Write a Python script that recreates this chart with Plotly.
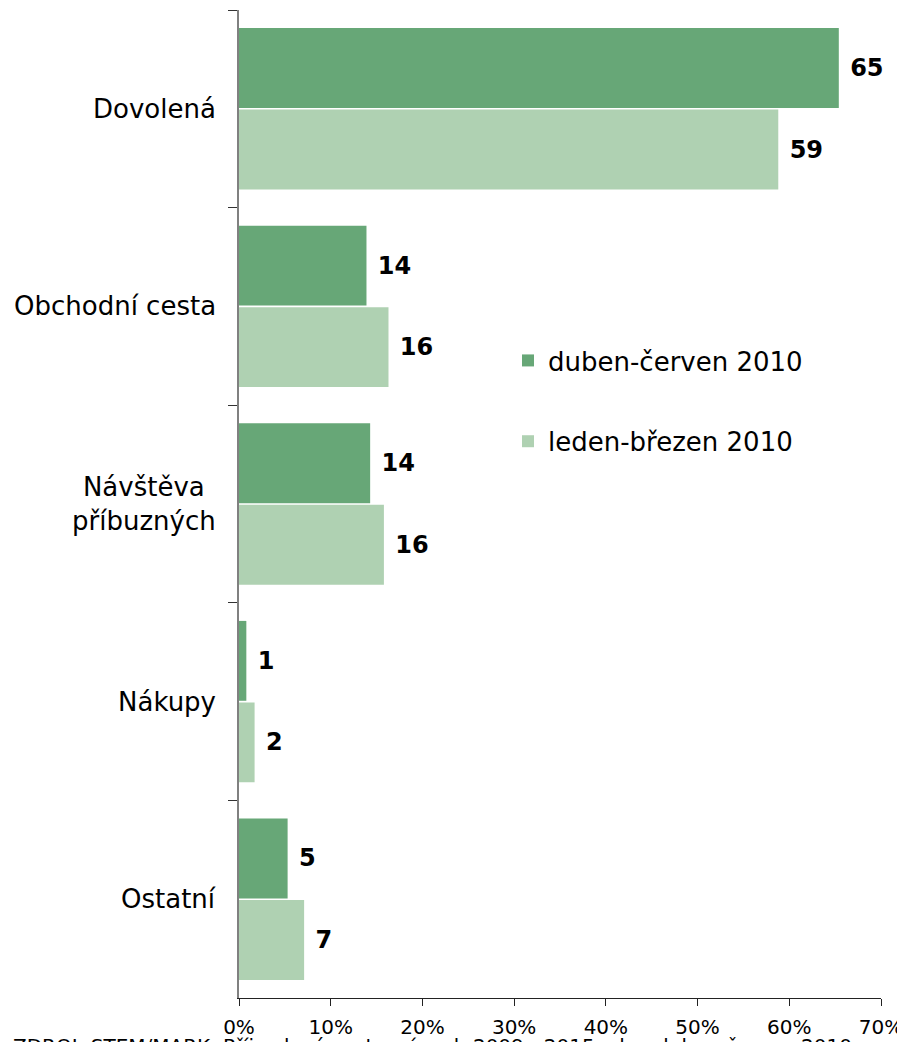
import plotly.graph_objects as go

categories = ["Dovolená", "Obchodní cesta", "Návštěva<br>příbuzných", "Nákupy", "Ostatní"]
series_names = ["duben-červen 2010", "leden-březen 2010"]
values_q2 = [65.4, 13.9, 14.3, 0.8, 5.3]
values_q1 = [58.8, 16.3, 15.8, 1.7, 7.1]
x_ticks = [0, 10, 20, 30, 40, 50, 60, 70]
x_tick_labels = ["0%", "10%", "20%", "30%", "40%", "50%", "60%", "70%"]
source_text = "ZDROJ: STEM/MARK, Příjezdový cestovní ruch 2009 - 2015, vlna duben-červen 2010"

colors = ["#67A777", "#AFD1B2"]
FONT = "DejaVu Sans, Verdana, sans-serif"

fig = go.Figure()
for name, vals, col, grp in [(series_names[0], values_q2, colors[0], "a"),
                             (series_names[1], values_q1, colors[1], "b")]:
    fig.add_trace(go.Bar(
        y=categories, x=vals, name=name, orientation="h",
        marker=dict(color=col, line=dict(width=0)),
        texttemplate=" %{x:.0f}", textposition="outside",
        textfont=dict(family=FONT, size=24, color="black", weight="bold"),
        cliponaxis=False, legendgroup=grp,
    ))

annotations = []
for c in categories:
    annotations.append(dict(
        x=0, xref="paper", y=c, yref="y", text=c, showarrow=False,
        xanchor="right", yanchor="middle", align="center", xshift=-21,
        font=dict(family=FONT, size=26, color="black"),
    ))
annotations.append(dict(
    x=-0.355, xref="paper", y=-0.034, yref="paper", text=source_text,
    showarrow=False, xanchor="left", yanchor="top", align="left",
    font=dict(family=FONT, size=20, color="black"),
))

fig.update_layout(
    width=897, height=1034,
    margin=dict(l=231, r=24, t=2, b=44, autoexpand=False),
    paper_bgcolor="white", plot_bgcolor="white",
    barmode="group", bargap=0.175, bargroupgap=0.02,
    font=dict(family=FONT, color="black"),
    showlegend=True,
    legend=dict(x=0.419, y=0.669, xanchor="left", yanchor="top",
                font=dict(family=FONT, size=26, color="black"),
                tracegroupgap=44, bgcolor="rgba(0,0,0,0)",
                traceorder="grouped"),
    annotations=annotations,
    xaxis=dict(range=[0, 70], tickvals=x_ticks, ticktext=x_tick_labels,
               showgrid=False, zeroline=False, showline=True,
               linecolor="#222", linewidth=1, ticks="outside", ticklen=7,
               tickcolor="#222", ticklabelstandoff=4, automargin=False,
               tickfont=dict(family=FONT, size=20, color="black")),
    yaxis=dict(autorange="reversed", showgrid=False, zeroline=False,
               showline=True, linecolor="#808080", linewidth=2,
               ticks="outside", ticklen=9, tickcolor="#333",
               tickson="boundaries", showticklabels=False, automargin=False),
)

fig.write_html("out.html")
